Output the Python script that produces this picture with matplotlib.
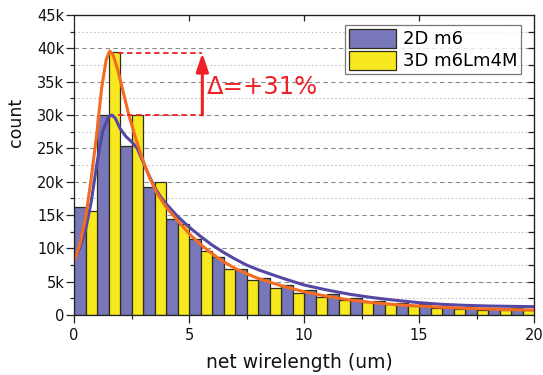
import numpy as np
import matplotlib
matplotlib.use('Agg')
import matplotlib.pyplot as plt
from matplotlib.ticker import MultipleLocator, FuncFormatter

# histogram bins (um), one bar pair per 1 um bin
bin_left = list(range(20))
count_2d = [16150, 30000, 25300, 19250, 14350, 11450, 8700, 6850, 5600, 4450,
            3700, 3100, 2500, 2050, 1800, 1600, 1200, 1050, 950, 1000]
count_3d = [15650, 39500, 30000, 20000, 13600, 9600, 6950, 5200, 4050, 3300,
            2750, 2250, 1950, 1650, 1350, 1000, 850, 800, 700, 700]

# smoothed distribution curves
fit_2d_x = [0.0, 0.25, 0.5, 0.75, 1.0, 1.25, 1.5, 1.65, 1.8, 2.0, 2.25, 2.5, 2.75,
            3.0, 3.25, 3.5, 3.75, 4.0, 4.5, 5.0, 5.5, 6.0, 6.5, 7.0, 7.5, 8.0,
            9.0, 10.0, 11.0, 12.0, 13.0, 14.0, 15.0, 16.0, 17.0, 18.0, 19.0, 20.0]
fit_2d_y = [8400, 10000, 12700, 17000, 22800, 27600, 29700, 30000, 29500, 28000,
            26800, 26000, 25000, 23000, 21000, 19200, 17800, 16700, 14800, 13200,
            11800, 10500, 9400, 8400, 7500, 6800, 5600, 4500, 3750, 3100, 2600,
            2200, 1850, 1600, 1450, 1350, 1300, 1250]
fit_3d_x = [0.0, 0.25, 0.5, 0.75, 1.0, 1.2, 1.4, 1.55, 1.7, 1.9, 2.1, 2.4, 2.7,
            3.0, 3.3, 3.6, 4.0, 4.5, 5.0, 5.5, 6.0, 6.5, 7.0, 7.5, 8.0, 9.0,
            10.0, 11.0, 12.0, 13.0, 14.0, 15.0, 16.0, 17.0, 18.0, 19.0, 20.0]
fit_3d_y = [8000, 10500, 14500, 20500, 27500, 34000, 38300, 39600, 39000, 36800,
            34000, 29800, 26300, 23200, 20500, 18300, 16200, 14200, 12200, 10600,
            9200, 8000, 7000, 6200, 5500, 4400, 3500, 2800, 2250, 1850, 1550,
            1350, 1150, 1000, 900, 800, 750]

peak_2d = 30000
peak_3d = 39300
gain_label = '\u0394=+31%'

plt.rcParams['font.family'] = 'DejaVu Sans'

fig = plt.figure(figsize=(5.43, 3.75), dpi=100)
ax = fig.add_axes([74 / 543, 60 / 375, 460 / 543, 300 / 375])

# horizontal grid: dashed at 5k, dotted at 2.5k
for v in np.arange(2500, 45000, 2500):
    if v % 5000 == 0:
        ax.axhline(v, color='#8c8c8c', lw=0.8, ls=(0, (4, 3)), zorder=0)
    else:
        ax.axhline(v, color='#c4c4c4', lw=0.8, ls=(0, (1.5, 2)), zorder=0)

edge = '#2e2e18'
x = np.array(bin_left)
ax.bar(x, count_2d, width=0.5, align='edge', color='#7777b9', edgecolor=edge,
       linewidth=0.9, label='2D m6', zorder=2)
ax.bar(x + 0.5, count_3d, width=0.5, align='edge', color='#f7e81f', edgecolor=edge,
       linewidth=0.9, label='3D m6Lm4M', zorder=2)

ax.plot(fit_2d_x, fit_2d_y, color='#5548a5', lw=2.2, zorder=3, solid_capstyle='round')
ax.plot(fit_3d_x, fit_3d_y, color='#f36c21', lw=2.2, zorder=4, solid_capstyle='round')

# peak difference marker
red = '#ee2226'
ax.plot([1.93, 5.55], [peak_3d, peak_3d], color=red, lw=1.3, ls=(0, (3, 2)), zorder=5)
ax.plot([1.93, 5.55], [peak_2d, peak_2d], color=red, lw=1.3, ls=(0, (3, 2)), zorder=5)
ax.annotate('', xy=(5.58, peak_3d), xytext=(5.58, peak_2d),
            arrowprops=dict(arrowstyle='-|>,head_width=0.37,head_length=1.1',
                            mutation_scale=10, color=red, lw=2.2,
                            shrinkA=0, shrinkB=0), zorder=6)
ax.text(5.77, 33150, gain_label, color=red, fontsize=17.5, ha='left', va='baseline', zorder=6)

ax.set_xlim(0, 20)
ax.set_ylim(0, 45000)
ax.xaxis.set_major_locator(MultipleLocator(5))
ax.xaxis.set_minor_locator(MultipleLocator(2.5))
ax.yaxis.set_major_locator(MultipleLocator(5000))
ax.yaxis.set_minor_locator(MultipleLocator(2500))
ax.yaxis.set_major_formatter(FuncFormatter(lambda v, p: '0' if v == 0 else '%dk' % (v / 1000)))
ax.tick_params(which='major', direction='out', length=5.5, width=0.9, labelsize=10.5,
               pad=1.5, colors='#222222', labelcolor='#111111')
ax.tick_params(which='minor', direction='out', length=3, width=0.9, colors='#222222')
ax.tick_params(axis='x', which='major', pad=3.5)
for s in ax.spines.values():
    s.set_linewidth(0.9)
    s.set_color('#222222')
    s.set_zorder(7)

# mirrored inner ticks on top and right
top = ax.secondary_xaxis('top')
top.set_xticks([5, 10, 15])
top.tick_params(direction='in', length=4, width=0.9, labeltop=False, colors='#222222')
right = ax.secondary_yaxis('right')
right.set_yticks(np.arange(2500, 45000, 2500))
right.tick_params(direction='in', length=4, width=0.9, labelright=False, colors='#222222')

ax.set_xlabel('net wirelength (um)', fontsize=13.5, color='#111111')
ax.set_ylabel('count', fontsize=12.5, color='#111111')
ax.xaxis.set_label_coords(0.491, -0.125)
ax.yaxis.set_label_coords(-0.107, 0.643)

leg = ax.legend(loc='upper right', bbox_to_anchor=(0.972, 0.967), borderaxespad=0,
                fontsize=13, frameon=True, fancybox=False, handlelength=2.6,
                handleheight=1.25, handletextpad=0.4, borderpad=0.2, labelspacing=0.15)
leg.get_frame().set_edgecolor('#555555')
leg.get_frame().set_linewidth(0.9)
leg.set_zorder(8)

fig.savefig('out.png', dpi=100)
